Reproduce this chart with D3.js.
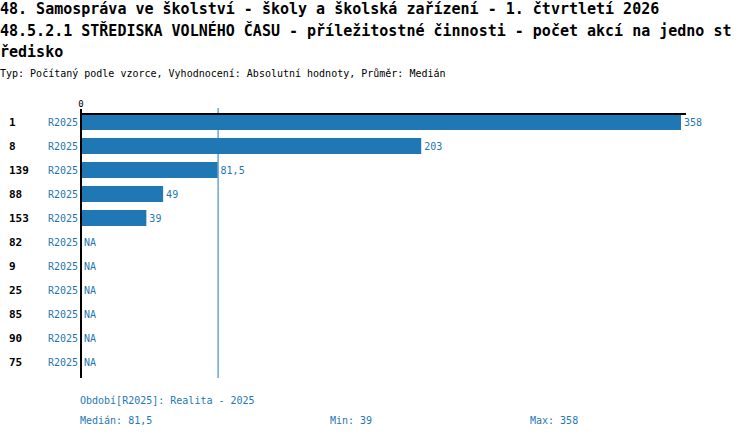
<!DOCTYPE html>
<html><head><meta charset="utf-8">
<script src="https://cdn.jsdelivr.net/npm/d3@7"></script>
<style>
body{margin:0;background:#fff;}
svg{display:block;}
text{font-family:"DejaVu Sans Mono","Liberation Mono",monospace;}
</style></head>
<body><svg id="c" width="750" height="438"></svg>
<script>
const titleLines = ["48. Samospráva ve školství - školy a školská zařízení - 1. čtvrtletí 2026",
  "48.5.2.1 STŘEDISKA VOLNÉHO ČASU - příležitostné činnosti - počet akcí na jedno st",
  "ředisko"];
const subtitle = "Typ: Počítaný podle vzorce, Vyhodnocení: Absolutní hodnoty, Průměr: Medián";
const categories = ["1","8","139","88","153","82","9","25","85","90","75"];
const seriesName = "R2025";
const values = [358,203,81.5,49,39,null,null,null,null,null,null];
const median = 81.5, minV = 39, maxV = 358;
const axisMax = 361;
const footer1 = "Období[R2025]: Realita - 2025";

const blue = "#1f77b4";
const svg = d3.select("#c");
const fmt = v => String(v).replace(".", ",");

svg.selectAll("text.title").data(titleLines).enter().append("text")
  .attr("x", 0).attr("y", (d,i) => 14 + i*21.5)
  .attr("font-size", 15).attr("font-weight", "bold").attr("fill", "#000")
  .text(d => d);
svg.append("text").attr("x", 0).attr("y", 77).attr("font-size", 10).attr("fill", "#000").text(subtitle);

const x = d3.scaleLinear().domain([0, axisMax]).range([81, 686]);
const y = d3.scaleBand().domain(categories).range([110, 374]).paddingInner(1/3).paddingOuter(1/6);

const g = svg.append("g");
// bars
g.selectAll("rect.bar").data(values.map((v,i)=>({v,c:categories[i]})).filter(d=>d.v!=null))
  .enter().append("rect")
  .attr("x", x(0)).attr("y", d => y(d.c)+ (y.bandwidth()-16)/2 + 0)
  .attr("width", d => x(d.v)-x(0)).attr("height", 16).attr("fill", blue);

// median line
g.append("line").attr("x1", x(median)+0.5).attr("x2", x(median)+0.5).attr("y1", 108).attr("y2", 378)
  .attr("stroke", blue).attr("stroke-width", 1);

// top axis
g.append("line").attr("x1", x(0)).attr("x2", x(axisMax)).attr("y1", 114).attr("y2", 114)
  .attr("stroke", "#000").attr("stroke-width", 2);
g.append("line").attr("x1", x(0)).attr("x2", x(0)).attr("y1", 109).attr("y2", 378)
  .attr("stroke", "#000").attr("stroke-width", 2);
g.append("text").attr("x", x(0)).attr("y", 107).attr("text-anchor","middle")
  .attr("font-size", 9).text(x.ticks(1)[0]);

const rowC = c => y(c) + y.bandwidth()/2;
// category labels
g.selectAll("text.cat").data(categories).enter().append("text")
  .attr("x", 9).attr("y", d => rowC(d)+4).attr("font-size", 11).attr("font-weight","bold")
  .attr("fill", "#000").text(d => d);
g.selectAll("text.ser").data(categories).enter().append("text")
  .attr("x", 78).attr("y", d => rowC(d)+4).attr("font-size", 10).attr("text-anchor","end")
  .attr("fill", blue).text(seriesName);
// value labels
g.selectAll("text.val").data(values.map((v,i)=>({v,c:categories[i]}))).enter().append("text")
  .attr("x", d => (d.v==null ? x(0) : x(d.v)) + 3).attr("y", d => rowC(d.c)+4)
  .attr("font-size", 10).attr("fill", blue).text(d => d.v==null ? "NA" : fmt(d.v));

// footer
svg.append("text").attr("x", 80).attr("y", 404).attr("font-size", 10).attr("fill", blue).text(footer1);
svg.append("text").attr("x", 80).attr("y", 424).attr("font-size", 10).attr("fill", blue).text("Medián: " + fmt(median));
svg.append("text").attr("x", 330).attr("y", 424).attr("font-size", 10).attr("fill", blue).text("Min: " + fmt(minV));
svg.append("text").attr("x", 530).attr("y", 424).attr("font-size", 10).attr("fill", blue).text("Max: " + fmt(maxV));
</script></body></html>
